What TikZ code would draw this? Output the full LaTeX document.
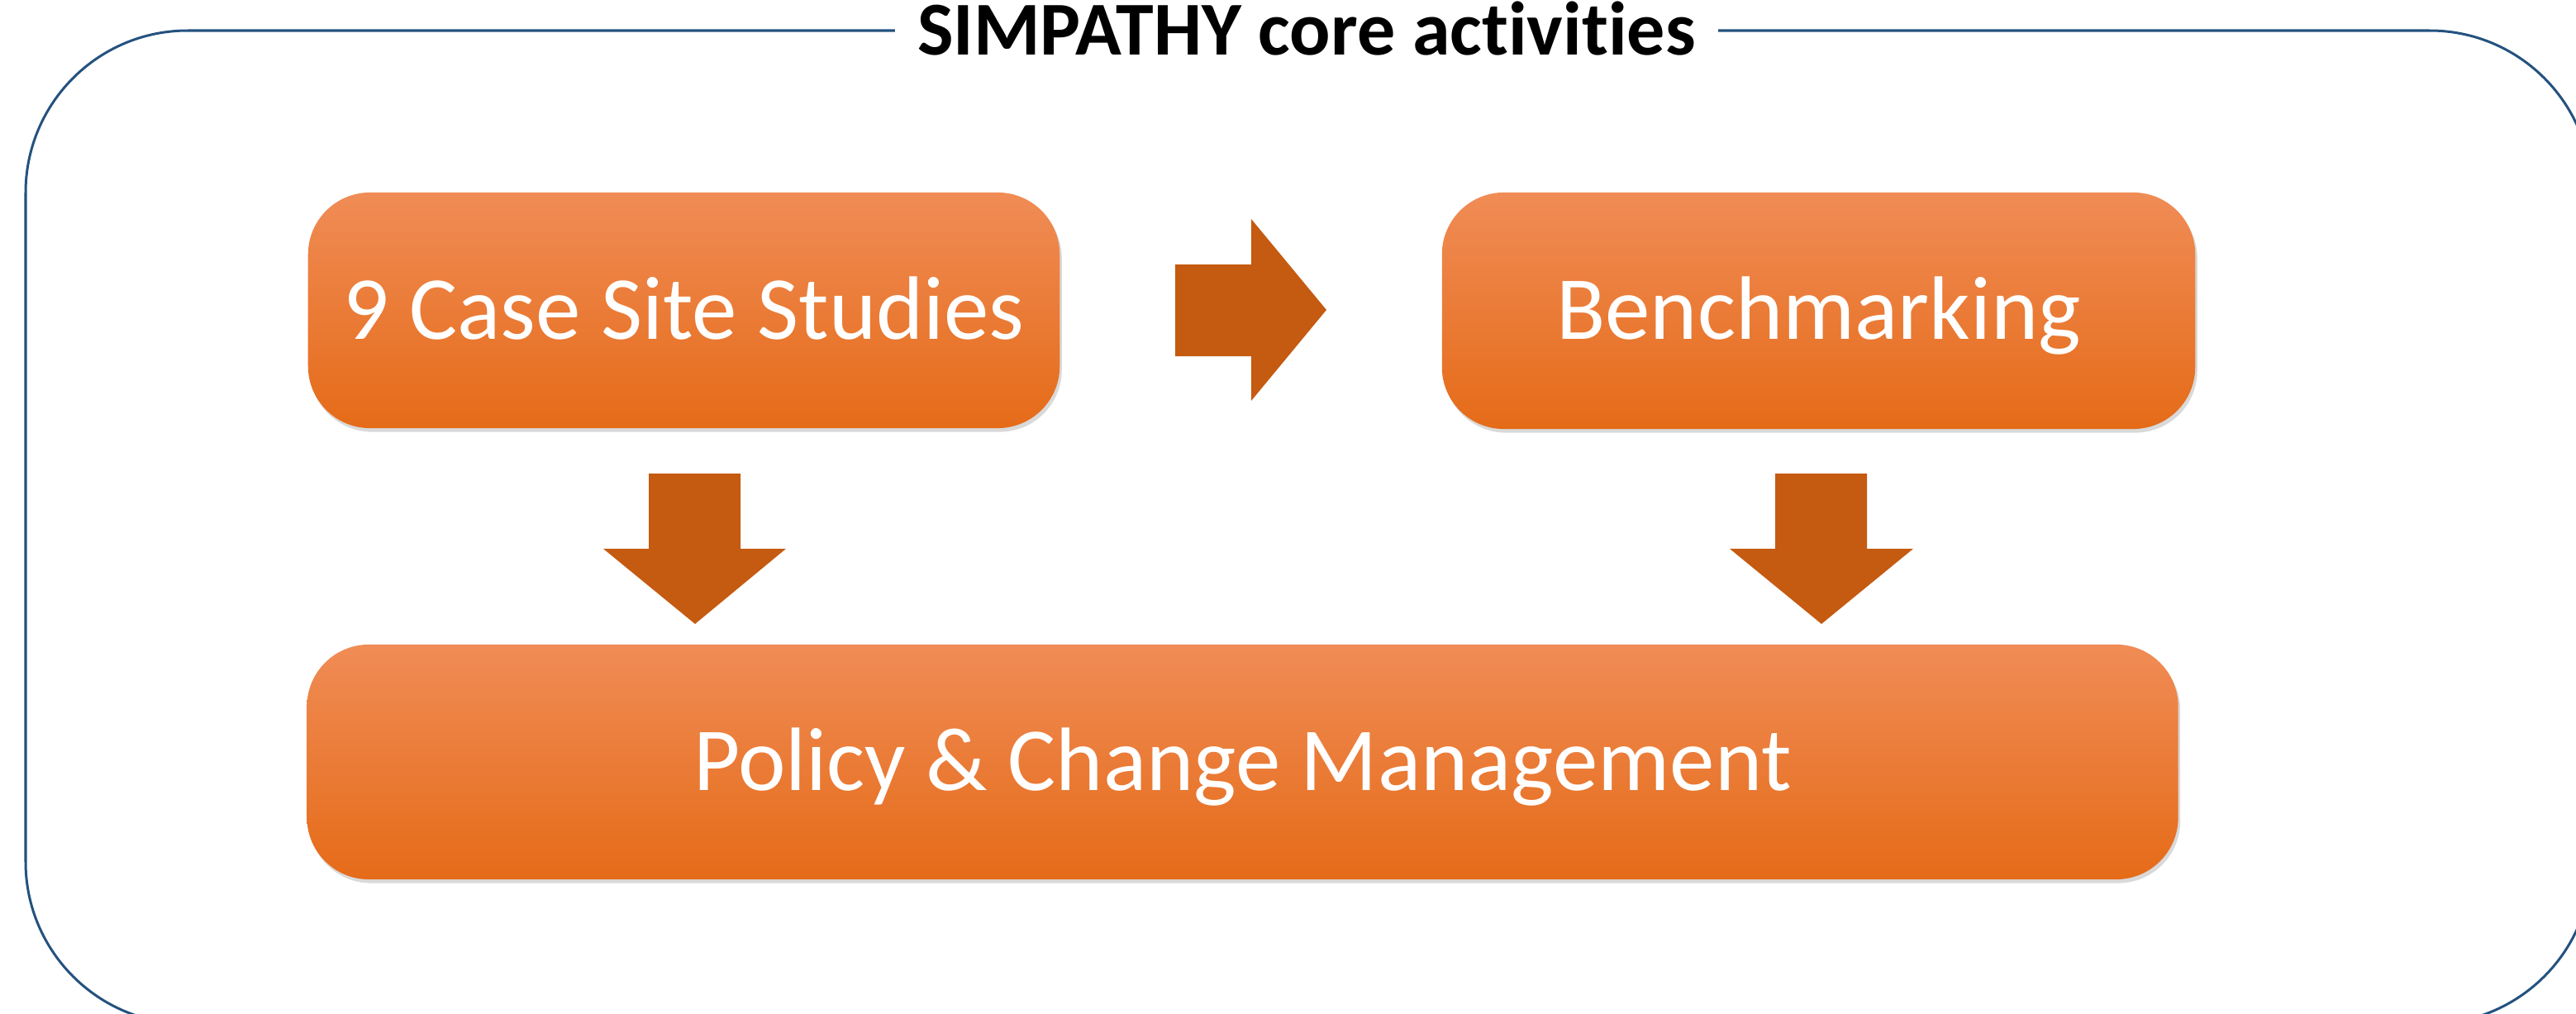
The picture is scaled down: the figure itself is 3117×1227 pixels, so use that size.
\documentclass[tikz,border=0pt]{standalone}
\usepackage{fontspec}
\setmainfont{Carlito}[Ligatures={NoCommon,NoRare,NoContextual}]
\usetikzlibrary{shadows}
\definecolor{frameblue}{RGB}{36,82,127}
\definecolor{arrowor}{RGB}{197,90,17}
\definecolor{boxtop}{RGB}{240,140,86}
\definecolor{boxmid}{RGB}{243,126,45}
\definecolor{boxbot}{RGB}{229,107,24}
\begin{document}
\begin{tikzpicture}[x=0.01cm,y=-0.01cm,
  box/.style={rectangle, rounded corners=0.75cm, top color=boxtop, middle color=boxmid,
    bottom color=boxbot, draw=none, inner sep=0pt, text=white,
    font=\fontsize{31}{37}\selectfont, text height=0.69cm, text depth=0cm,
    drop shadow={shadow xshift=0.025cm, shadow yshift=-0.045cm, opacity=0.3}},
  blockarrow/.style={fill=arrowor, draw=none},
  titletext/.style={font=\bfseries\fontsize{26.2}{31}\selectfont, fill=white,
    inner xsep=0.27cm, inner ysep=0pt, anchor=base}
]
\useasboundingbox (0,0) rectangle (3117,1227);
\begin{scope}
  \clip (0,0) rectangle (3117,1227);
  \draw[frameblue, line width=0.03cm, rounded corners=1.96cm] (31,37) rectangle (3136,1239);
\end{scope}
\node[titletext] (title) at (1581,67) {SIMPATHY core activities};

\node[box, minimum width=9.09cm, minimum height=2.85cm] (cases) at (827.5,375.5) {9 Case Site Studies};
\node[box, minimum width=9.11cm, minimum height=2.86cm] (bench) at (2200.5,376) {Benchmarking};
\node[box, minimum width=22.63cm, minimum height=2.84cm] (policy) at (1503.5,922) {Policy \& Change Management};

% block arrows
\fill[blockarrow] (1422,320) -- (1514,320) -- (1514,265) -- (1605,375) -- (1514,485) -- (1514,431) -- (1422,431) -- cycle;
\fill[blockarrow] (785,573) -- (896,573) -- (896,664) -- (951,664) -- (841,755) -- (730,664) -- (785,664) -- cycle;
\fill[blockarrow] (2148,573) -- (2259,573) -- (2259,664) -- (2315,664) -- (2204,755) -- (2093,664) -- (2148,664) -- cycle;
\end{tikzpicture}
\end{document}
